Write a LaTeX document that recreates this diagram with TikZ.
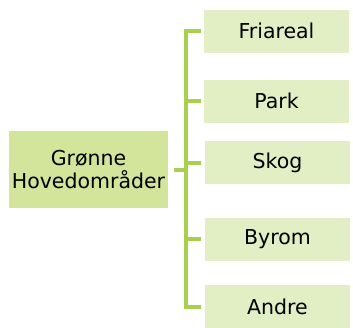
\documentclass[tikz,border=0pt]{standalone}
\usepackage{fontspec}
\setmainfont{DejaVu Sans}
\definecolor{mainfill}{HTML}{D3E59B}
\definecolor{subfill}{HTML}{E2EEC4}
\definecolor{linegreen}{HTML}{A8CF4E}
\begin{document}
\begin{tikzpicture}[x=1pt,y=-1pt,
  mainbox/.style={fill=mainfill,draw=none,minimum width=159pt,minimum height=77pt,inner sep=0pt,align=center,font=\fontsize{20.5}{23}\selectfont},
  subbox/.style={fill=subfill,draw=none,minimum width=145pt,minimum height=43pt,inner sep=0pt,font=\fontsize{20.5}{23}\selectfont},
  conn/.style={draw=linegreen,line width=4pt}]
\useasboundingbox (0,0) rectangle (353,327);
\node[mainbox] (main) at (88.5,169.5) {Grønne\\Hovedområder};
\node[subbox] (s1) at (276.5,31) {Friareal};
\node[subbox] (s2) at (276.5,101) {Park};
\node[subbox] (s3) at (277.5,162.5) {Skog};
\node[subbox] (s4) at (277.5,239) {Byrom};
\node[subbox] (s5) at (277.5,306.5) {Andre};
\coordinate (bx) at (186,0);
\coordinate (m) at ([xshift=6pt]main.east);
\draw[conn] (m) -- (bx |- m);
\draw[conn] ([xshift=-3pt]s1.west) -| (bx |- s5.west) -- ([xshift=-4pt]s5.west);
\draw[conn] ([xshift=-3pt]s2.west) -- (bx |- s2.west);
\draw[conn] ([xshift=-4pt]s3.west) -- (bx |- s3.west);
\draw[conn] ([xshift=-4pt]s4.west) -- (bx |- s4.west);
\end{tikzpicture}
\end{document}
